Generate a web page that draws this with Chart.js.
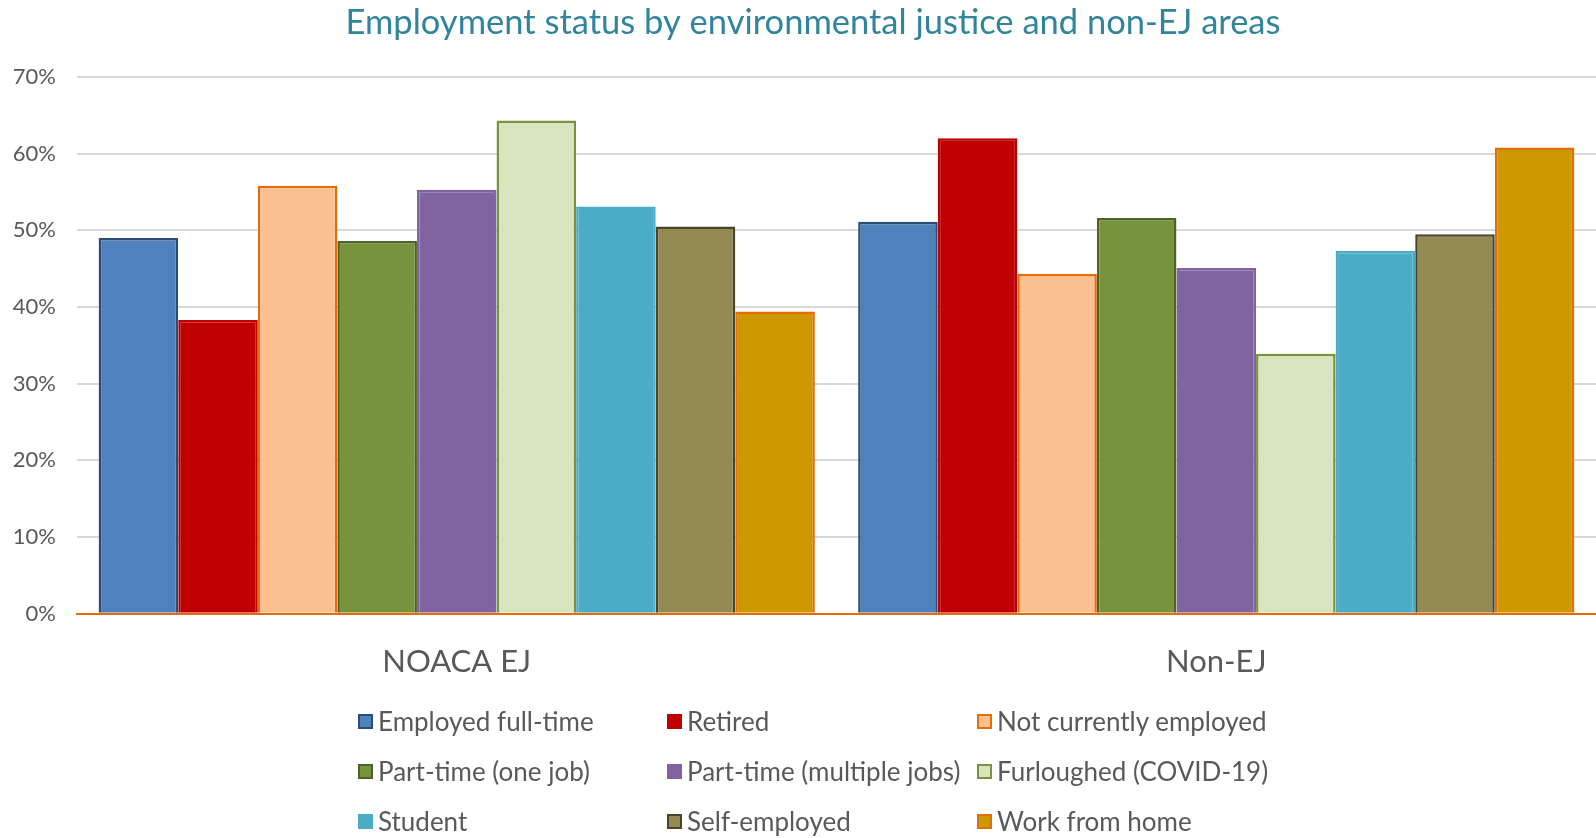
<!DOCTYPE html>
<html>
<head>
<meta charset="utf-8">
<script src="https://cdn.jsdelivr.net/npm/chart.js@4.4.0/dist/chart.umd.min.js"></script>
<style>
  body { margin: 0; background: #fff; }
  #wrap { position: relative; width: 1596px; height: 838px; }
  #legend { position: absolute; left: 358px; top: 704px; width: 1000px;
            display: grid; grid-template-columns: 309px 310px 330px; row-gap: 16px;
            font-family: Lato, sans-serif; font-size: 26px; color: #595959; }
  #legend .item { display: flex; align-items: center; height: 34px; white-space: nowrap; }
  #legend .box { width: 15px; height: 15px; border: 2px solid; margin-right: 5px; box-sizing: border-box; }
</style>
</head>
<body>
<div id="wrap">
  <canvas id="mychart" width="1596" height="838"></canvas>
  <div id="legend"></div>
</div>
<script>
var categories = ['NOACA EJ', 'Non-EJ'];
var seriesNames = ['Employed full-time', 'Retired', 'Not currently employed',
                   'Part-time (one job)', 'Part-time (multiple jobs)', 'Furloughed (COVID-19)',
                   'Student', 'Self-employed', 'Work from home'];
// values in percent, [NOACA EJ, Non-EJ]
var fullTime     = [49.0, 51.1];
var retired      = [38.3, 62.0];
var notEmployed  = [55.8, 44.3];
var partOne      = [48.6, 51.6];
var partMultiple = [55.3, 45.1];
var furloughed   = [64.3, 33.9];
var student      = [53.1, 47.3];
var selfEmployed = [50.5, 49.5];
var workHome     = [39.4, 60.8];
var yTicks = [0, 10, 20, 30, 40, 50, 60, 70];

var fills   = ['#4F81BD', '#C00000', '#FAC090', '#77933C', '#8064A2', '#D7E4BD', '#4BACC6', '#948A54', '#CC9900'];
var borders = ['#2C4D75', '#C00000', '#E46C0A', '#4F6228', '#8064A2', '#77933C', '#4BACC6', '#4A452A', '#E46C0A'];
var values  = [fullTime, retired, notEmployed, partOne, partMultiple, furloughed, student, selfEmployed, workHome];

var datasets = [];
for (var i = 0; i < seriesNames.length; i++) {
    datasets.push({
        label: seriesNames[i],
        data: values[i],
        backgroundColor: fills[i],
        borderColor: borders[i],
        borderWidth: 2.5,
        borderSkipped: 'start'
    });
}

// title in the original sits a little right of the page centre
var titleShift = {
    id: 'titleShift',
    afterLayout: function(chart) {
        if (chart.titleBlock) chart.titleBlock.left += 30;
    }
};

var config = {
    type: 'bar',
    data: { labels: categories, datasets: datasets },
    plugins: [titleShift],
    options: {
        responsive: false,
        animation: false,
        layout: { padding: { left: 0, right: 0, top: 0, bottom: 127 } },
        datasets: { bar: { categoryPercentage: 0.943, barPercentage: 1.0 } },
        plugins: {
            legend: { display: false },
            tooltip: { enabled: false },
            title: {
                display: true,
                text: 'Employment status by environmental justice and non-EJ areas',
                color: '#31849B',
                font: { family: 'Lato', size: 34.5, weight: 'normal' },
                padding: { top: 2, bottom: 33.5 }
            }
        },
        scales: {
            x: {
                grid: { display: false, drawTicks: false },
                border: { color: '#E46C0A', width: 2 },
                ticks: { color: '#595959', font: { family: 'Lato', size: 31 }, padding: 30 }
            },
            y: {
                min: 0, max: 70,
                afterBuildTicks: function(scale) {
                    scale.ticks = yTicks.map(function(v){ return { value: v }; });
                },
                afterFit: function(scale) { scale.width = 77; },
                grid: { color: '#D9D9D9', lineWidth: 2, drawTicks: false },
                border: { display: false },
                ticks: {
                    color: '#595959', padding: 21,
                    font: { family: 'Lato', size: 22 },
                    callback: function(v) { return v + '%'; }
                }
            }
        }
    }
};

var ctx = document.getElementById('mychart').getContext('2d');
window.myBar = new Chart(ctx, config);

// legend in 3 columns like the original
var lg = document.getElementById('legend');
myBar.data.datasets.forEach(function(ds) {
    var it = document.createElement('div');
    it.className = 'item';
    var b = document.createElement('span');
    b.className = 'box';
    b.style.background = ds.backgroundColor;
    b.style.borderColor = ds.borderColor;
    it.appendChild(b);
    it.appendChild(document.createTextNode(ds.label));
    lg.appendChild(it);
});
</script>
</body>
</html>
